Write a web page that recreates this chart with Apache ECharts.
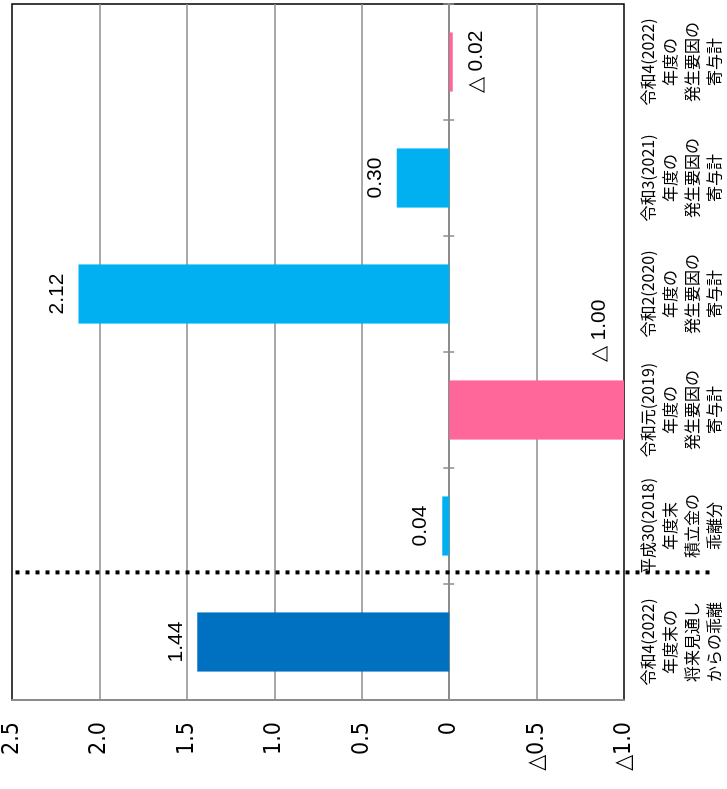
<!DOCTYPE html>
<html>
<head>
<meta charset="utf-8">
<script src="https://cdn.jsdelivr.net/npm/echarts@6/dist/echarts.min.js"></script>
<style>
html, body { margin: 0; padding: 0; background: #fff; overflow: hidden; }
#wrap { position: relative; width: 727px; height: 789px; overflow: hidden; }
/* chart is drawn upright, then turned 90deg counter-clockwise like the original */
#main { position: absolute; left: 0; top: 0; width: 789px; height: 727px;
        transform-origin: 0 0; transform: translateY(789px) rotate(-90deg); }
</style>
</head>
<body>
<div id="wrap"><div id="main"></div></div>
<script>
// categories (first one is the bottom bar in the picture)
var categories = [
  '令和4(2022)\n年度末の\n将来見通し\nからの乖離',
  '平成30(2018)\n年度末\n積立金の\n乖離分',
  '令和元(2019)\n年度の\n発生要因の\n寄与計',
  '令和2(2020)\n年度の\n発生要因の\n寄与計',
  '令和3(2021)\n年度の\n発生要因の\n寄与計',
  '令和4(2022)\n年度の\n発生要因の\n寄与計'
];
var values = [1.44, 0.04, -1.00, 2.12, 0.30, -0.02];
var axisMin = -1.0;
var axisMax = 2.5;
var axisStep = 0.5;
// dotted divider: between category 0 and 1, spanning these axis values
var dividerAt = 0.6;
var dividerSpan = [2.48, -1.51];

var DARK = '#0070C0', LIGHT = '#00B0F0', PINK = '#FF6699';

function fmtTick(v) {
  if (v === 0) return '0';
  if (v < 0) return '△' + Math.abs(v).toFixed(1);
  return v.toFixed(1);
}
function fmtVal(v) {
  return v < 0 ? '△ ' + Math.abs(v).toFixed(2) : v.toFixed(2);
}

var barData = values.map(function (v, i) {
  var item = {
    value: v,
    itemStyle: { color: i === 0 ? DARK : (v < 0 ? PINK : LIGHT) },
    label: v < 0 ? { position: 'bottom', distance: 13 } : { position: 'top', distance: 11 }
  };
  // the big negative bar has its label moved off to the side
  if (v <= -0.5) {
    item.label = { position: 'insideBottom', distance: 5, offset: [79, -9] };
  }
  return item;
});

var tickLine = { color: '#8c8c8c', width: 1.5 };

var myChart = echarts.init(document.getElementById('main'));
myChart.setOption({
  animation: false,
  backgroundColor: '#fff',
  grid: {
    left: 89, right: 4, top: 12, bottom: 103,
    show: true, borderColor: '#000', borderWidth: 1.5, backgroundColor: 'transparent'
  },
  xAxis: [
    {
      type: 'category',
      data: categories,
      position: 'bottom',
      axisLine: { show: false, onZero: false },
      axisTick: { show: false },
      axisLabel: {
        interval: 0,
        margin: 13,
        color: '#000',
        fontSize: 16,
        lineHeight: 22,
        fontFamily: '"Noto Sans CJK JP", sans-serif'
      }
    },
    {
      type: 'category',
      data: categories,
      position: 'bottom',
      axisLine: { show: true, onZero: true, onZeroAxisIndex: 0,
                  lineStyle: { color: '#8c8c8c', width: 2 } },
      axisTick: { show: true, length: 5, lineStyle: tickLine },
      axisLabel: { show: false }
    },
    {
      type: 'category',
      data: categories,
      position: 'top',
      axisLine: { show: true, onZero: true, onZeroAxisIndex: 0,
                  lineStyle: { color: '#8c8c8c', width: 2 } },
      axisTick: { show: true, length: 6, lineStyle: tickLine },
      axisLabel: { show: false }
    }
  ],
  yAxis: {
    type: 'value',
    min: axisMin,
    max: axisMax,
    interval: axisStep,
    axisLine: { show: true, lineStyle: { color: '#8c8c8c', width: 2 } },
    axisTick: { show: false },
    splitLine: { show: true, showMinLine: false, showMaxLine: false,
                 lineStyle: { color: '#8c8c8c', width: 1.5 } },
    axisLabel: {
      margin: 22,
      color: '#000',
      fontSize: 23,
      fontFamily: '"DejaVu Sans Condensed", "DejaVu Sans", sans-serif',
      formatter: fmtTick
    }
  },
  series: [{
    type: 'bar',
    xAxisIndex: 0,
    yAxisIndex: 0,
    barWidth: '51%',
    data: barData,
    label: {
      show: true,
      color: '#000',
      fontSize: 21,
      fontFamily: '"Liberation Sans", Arial, sans-serif',
      formatter: function (p) { return fmtVal(p.value); }
    }
  }]
});

// dotted divider line, placed through the chart's own scales
var c0 = myChart.convertToPixel({ xAxisIndex: 0 }, 0);
var c1 = myChart.convertToPixel({ xAxisIndex: 0 }, 1);
var lx = c0 + (c1 - c0) * dividerAt;
var y0 = myChart.convertToPixel({ yAxisIndex: 0 }, dividerSpan[0]);
var y1 = myChart.convertToPixel({ yAxisIndex: 0 }, dividerSpan[1]);
myChart.setOption({
  graphic: [{
    type: 'line',
    z: 100,
    shape: { x1: lx, y1: y0, x2: lx, y2: y1 },
    style: { stroke: '#000', lineWidth: 4, lineDash: [4, 6] }
  }]
});
</script>
</body>
</html>
